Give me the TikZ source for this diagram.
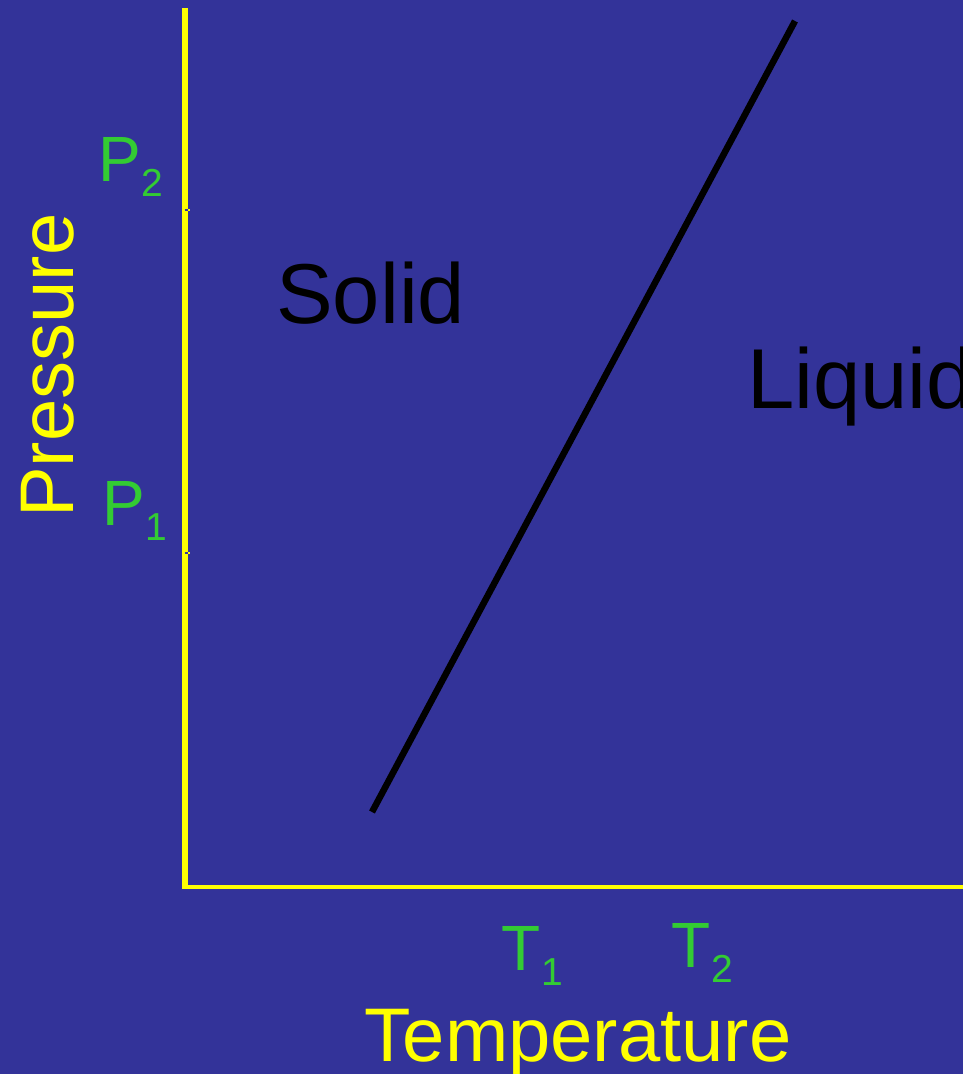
\documentclass[tikz,border=0pt]{standalone}
\usepackage{fontspec}
\setmainfont{Liberation Sans}
\usetikzlibrary{positioning}
\definecolor{slidebg}{HTML}{333399}
\definecolor{axisyellow}{HTML}{FFFF00}
\definecolor{tickgreen}{HTML}{33CC33}
\newcommand{\fsz}[1]{\fontsize{#1}{#1}\selectfont}

\begin{document}
\begin{tikzpicture}[x=1pt,y=-1pt,
  ax/.style={draw=axisyellow,line cap=butt},
  phase/.style={anchor=base west,inner sep=0pt,font=\fsz{85}},
  axlbl/.style={anchor=base west,inner sep=0pt,text=axisyellow,font=\fsz{76}},
  val/.style={anchor=base west,inner sep=0pt,text=tickgreen,font=\fsz{64}},
  sub/.style={anchor=base west,inner sep=0pt,text=tickgreen,font=\fsz{39}}]

  % slide background (fixes the page size)
  \fill[slidebg] (0,0) rectangle (963,1074);
  \useasboundingbox (0,0) rectangle (963,1074);

  % axes
  \coordinate (top) at (185,8);
  \coordinate (orig) at (185,887);
  \coordinate (rend) at (963,887);
  \draw[ax,line width=6pt] (top) -- ([yshift=-2pt]orig);
  \draw[ax,line width=3.5pt] ([xshift=-3pt]orig) -- (rend);
  \foreach \y in {210,553}{
    \draw[axisyellow,line width=1.2pt] (186,\y) -- (190,\y);
    \draw[slidebg,line width=1.5pt] (184.5,\y) -- (187.5,\y);
  }

  % solid/liquid boundary
  \coordinate (lo) at (372,812);
  \coordinate (hi) at (795,21);
  \draw[line width=6.5pt] (lo) -- (hi);

  \node[phase] (solid) at (276,323) {Solid};
  \node[phase] (liquid) at (747,408) {Liquid};

  % axis titles
  \node[axlbl,rotate=90] (pres) at (73,518) {Pressure};
  \node[axlbl] (temp) at (364.5,1061) {Temperature};

  % marked values
  \foreach \name/\x/\y/\s in {p2/98/181/2, p1/102/525/1}{
    \node[val] (\name) at (\x,\y) {P};
    \node[sub] (\name-sub) at ([yshift=-15pt]\name.base east) {\s};
  }
  \foreach \name/\x/\y/\s in {t1/501.5/970/1, t2/671.5/967/2}{
    \node[val] (\name) at (\x,\y) {T};
    \node[sub] (\name-sub) at ([yshift=-15pt]\name.base east) {\s};
  }
\end{tikzpicture}
\end{document}
